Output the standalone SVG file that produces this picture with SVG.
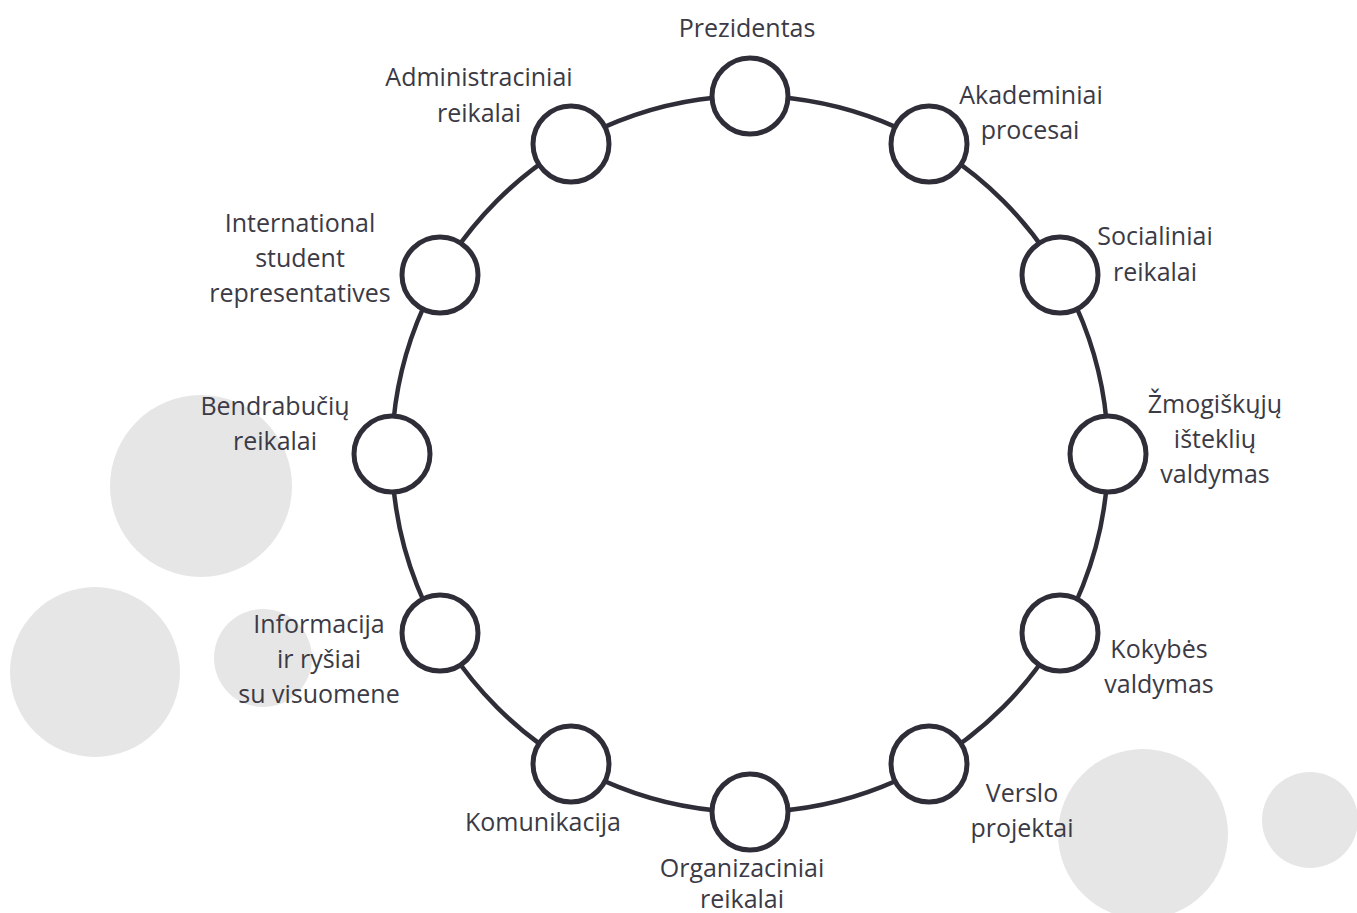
<svg xmlns="http://www.w3.org/2000/svg" width="1357" height="913" viewBox="0 0 1357 913">
<style>
.bg{fill:#e6e6e6}
.ring{fill:none;stroke:#2f2e38;stroke-width:4.5}
.node{fill:#fff;stroke:#2f2e38;stroke-width:5}
text{font-family:"Open Sans","Noto Sans","Liberation Sans",sans-serif;font-size:25px;fill:#3b3a45;text-anchor:middle}
</style>
<rect width="1357" height="913" fill="#fff"/>
<g id="decor">
<circle class="bg" cx="201" cy="486" r="91"/>
<circle class="bg" cx="95" cy="672" r="85"/>
<circle class="bg" cx="263" cy="658" r="49"/>
<circle class="bg" cx="1143" cy="834" r="85"/>
<circle class="bg" cx="1310" cy="820" r="48"/>
</g>
<g id="connectors">
<circle class="ring" cx="750" cy="454" r="358"/>
</g>
<g id="n-prezidentas"><circle class="node" cx="750" cy="96" r="38"/><text x="747" y="37">Prezidentas</text></g>
<g id="n-akademiniai"><circle class="node" cx="929" cy="144" r="38"/><text x="1031" y="104">Akademiniai</text><text x="1030" y="139">procesai</text></g>
<g id="n-socialiniai"><circle class="node" cx="1060" cy="275" r="38"/><text x="1155" y="245">Socialiniai</text><text x="1155" y="281">reikalai</text></g>
<g id="n-zmogiskuju"><circle class="node" cx="1108" cy="454" r="38"/><text x="1215" y="413">Žmogiškųjų</text><text x="1215" y="448">išteklių</text><text x="1215" y="483">valdymas</text></g>
<g id="n-kokybes"><circle class="node" cx="1060" cy="633" r="38"/><text x="1159" y="658">Kokybės</text><text x="1159" y="693">valdymas</text></g>
<g id="n-verslo"><circle class="node" cx="929" cy="764" r="38"/><text x="1022" y="802">Verslo</text><text x="1022" y="837">projektai</text></g>
<g id="n-organizaciniai"><circle class="node" cx="750" cy="812" r="38"/><text x="742" y="877">Organizaciniai</text><text x="742" y="908">reikalai</text></g>
<g id="n-komunikacija"><circle class="node" cx="571" cy="764" r="38"/><text x="543" y="831">Komunikacija</text></g>
<g id="n-informacija"><circle class="node" cx="440" cy="633" r="38"/><text x="319" y="633">Informacija</text><text x="319" y="668">ir ryšiai</text><text x="319" y="703">su visuomene</text></g>
<g id="n-bendrabuciu"><circle class="node" cx="392" cy="454" r="38"/><text x="275" y="415">Bendrabučių</text><text x="275" y="450">reikalai</text></g>
<g id="n-international"><circle class="node" cx="440" cy="275" r="38"/><text x="300" y="232">International</text><text x="300" y="267">student</text><text x="300" y="302">representatives</text></g>
<g id="n-administraciniai"><circle class="node" cx="571" cy="144" r="38"/><text x="479" y="86">Administraciniai</text><text x="479" y="122">reikalai</text></g>
</svg>
